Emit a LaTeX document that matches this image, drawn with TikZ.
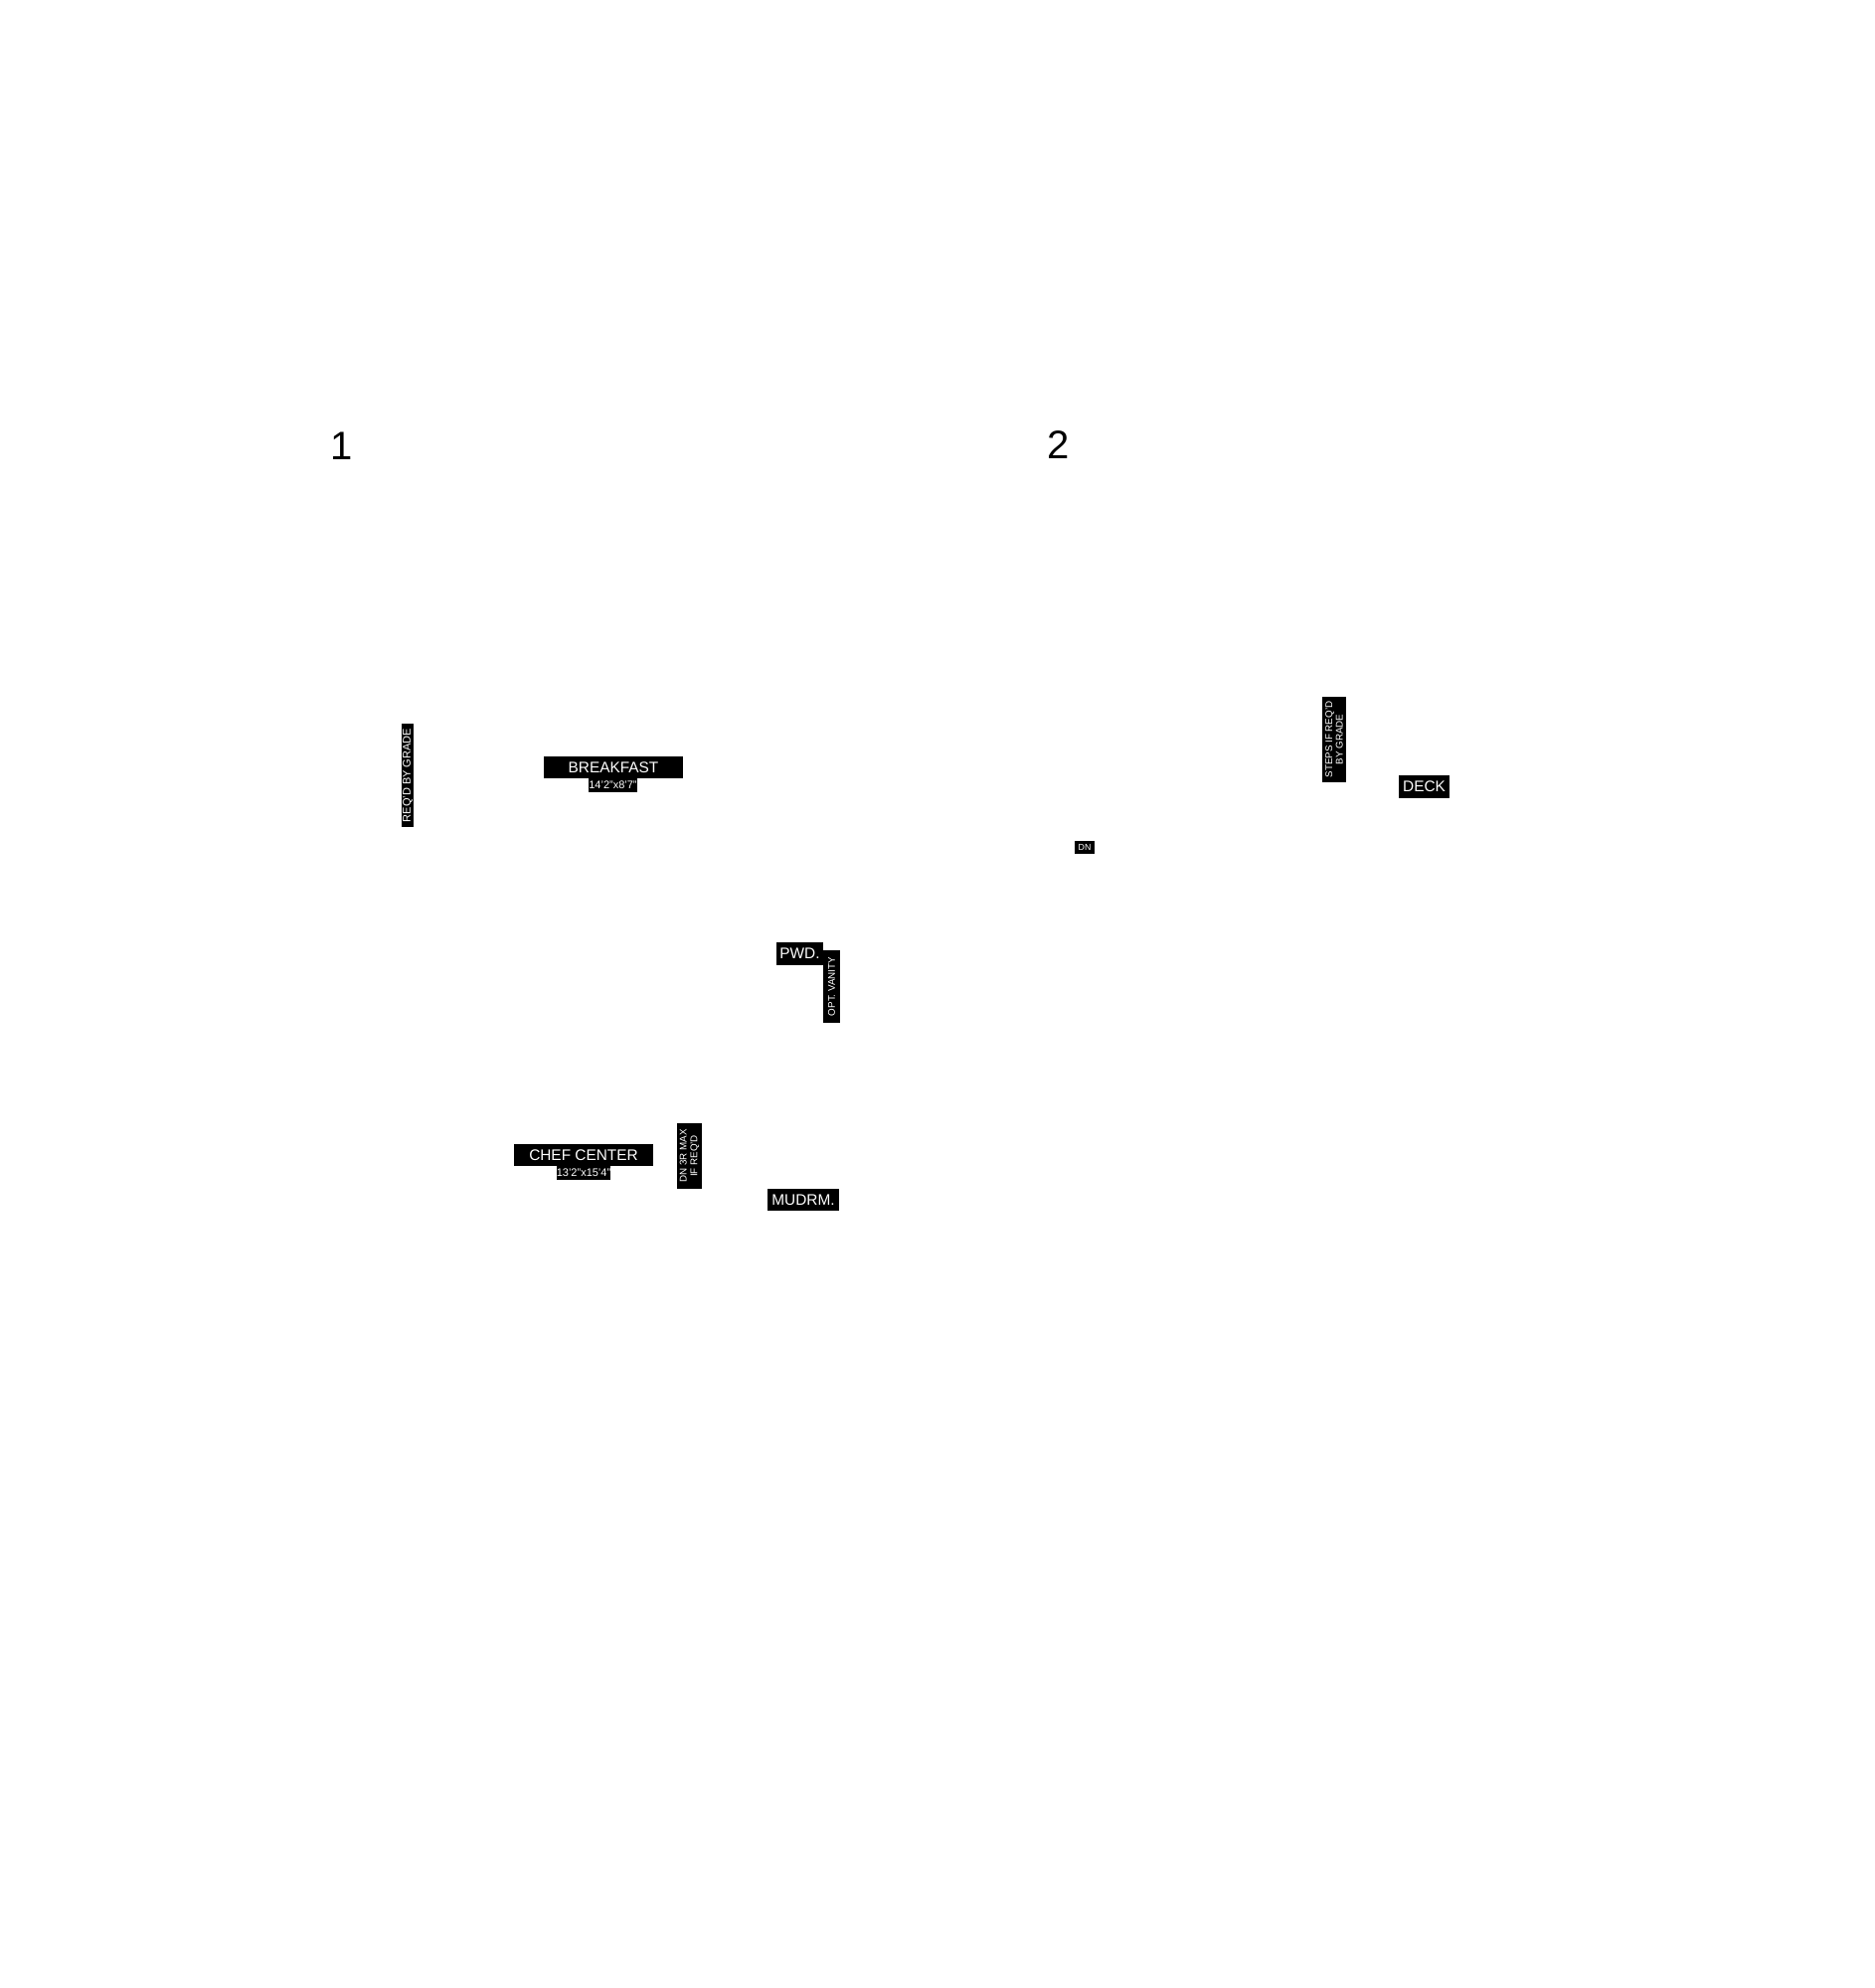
\documentclass[tikz,border=0pt]{standalone}
\usepackage{fontspec}
\setmainfont{Liberation Sans}
\begin{document}
\begin{tikzpicture}[x=0.5pt,y=-0.5pt,
  tag/.style={fill=black,text=white,inner sep=0pt,font=\fontsize{7.7}{8}\selectfont},
  dim/.style={fill=black,text=white,inner sep=0pt,font=\fontsize{5.5}{6}\selectfont},
  note/.style={fill=black,text=white,inner sep=0pt,align=center,font=\fontsize{4.9}{5.3}\selectfont},
  num/.style={inner sep=0pt,font=\fontsize{20}{22}\selectfont}]
\useasboundingbox[fill=white] (0,0) rectangle (1885,2000);
\node[num] (n1) at (344,448.5) {1};
\node[num] (n2) at (1065,448) {2};

\node[note,rotate=90,minimum width=52pt,minimum height=6pt,font=\fontsize{5.5}{6}\selectfont] (reqd) at (410,780) {REQ'D BY GRADE};
\node[tag,minimum width=70pt,minimum height=11pt] (breakfast) at (617,772) {BREAKFAST};
\node[dim,minimum width=23.5pt,minimum height=7pt] (bdim) at (616.5,790) {14'2"x8'7"};
\node[tag,minimum width=23.5pt,minimum height=11.5pt] (pwd) at (804.5,959.5) {PWD.};
\node[note,rotate=90,minimum width=36.5pt,minimum height=8.5pt] (vanity) at (836.5,992.5) {OPT. VANITY};
\node[tag,minimum width=70pt,minimum height=11pt] (chef) at (587,1162) {CHEF CENTER};
\node[dim,minimum width=26pt,minimum height=7pt] (cdim) at (587,1180) {13'2"x15'4"};
\node[note,rotate=90,minimum width=33pt,minimum height=12.5pt] (dnmax) at (693.5,1163) {DN 3R MAX\\IF REQ'D};
\node[tag,minimum width=36pt,minimum height=11pt] (mudrm) at (808,1207) {MUDRM.};

\node[note,rotate=90,minimum width=43pt,minimum height=12pt] (steps) at (1342,744) {STEPS IF REQ'D\\BY GRADE};
\node[tag,minimum width=25.5pt,minimum height=11.5pt] (deck) at (1432.5,791.5) {DECK};
\node[note,minimum width=10pt,minimum height=6.5pt,font=\fontsize{4.4}{5}\selectfont] (dn) at (1091,852.5) {DN};
\end{tikzpicture}
\end{document}
